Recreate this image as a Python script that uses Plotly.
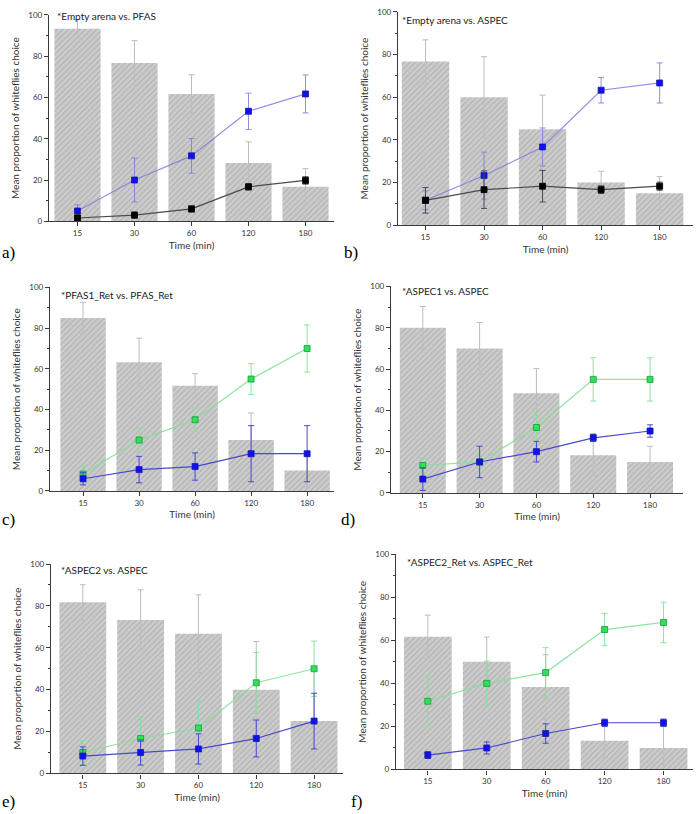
import plotly.graph_objects as go

W, H = 697, 814

categories = ["15", "30", "60", "120", "180"]
titles = ["*Empty arena vs. PFAS", "*Empty arena vs. ASPEC", "*PFAS1_Ret vs. PFAS_Ret",
          "*ASPEC1 vs. ASPEC", "*ASPEC2 vs. ASPEC", "*ASPEC2_Ret vs. ASPEC_Ret"]
panel_labels = ["a)", "b)", "c)", "d)", "e)", "f)"]

# Panel a
bar_a = [93.3, 76.7, 61.7, 28.3, 16.7]
bar_a_err = [4.4, 10.8, 9.3, 10.2, 8.8]
blue_a = [5.0, 20.0, 31.7, 53.3, 61.7]
blue_a_err = [3.0, 10.6, 8.4, 8.8, 9.2]
black_a = [1.6, 3.0, 6.0, 16.7, 19.8]
black_a_err = [1.5, 1.5, 1.5, 1.5, 1.8]

# Panel b
bar_b = [76.7, 60.0, 45.0, 20.0, 15.0]
bar_b_err = [10.2, 19.0, 16.0, 5.3, 7.8]
blue_b = [11.7, 23.3, 36.7, 63.3, 66.7]
blue_b_err = [4.4, 11.0, 8.9, 6.0, 9.4]
black_b = [11.7, 16.7, 18.3, 16.7, 18.3]
black_b_err = [6.0, 8.8, 7.4, 1.8, 1.9]

# Panel c
bar_c = [85.0, 63.3, 51.7, 25.0, 10.0]
bar_c_err = [7.7, 11.8, 6.0, 13.3, 8.0]
green_c = [8.3, 25.0, 35.0, 55.0, 70.0]
green_c_err = [4.2, 5.8, 5.8, 7.6, 11.6]
blue_c = [6.0, 10.5, 12.0, 18.3, 18.3]
blue_c_err = [3.0, 6.5, 6.7, 13.8, 13.8]

# Panel d
bar_d = [80.0, 70.0, 48.3, 18.3, 15.0]
bar_d_err = [10.3, 12.6, 12.0, 10.0, 7.6]
green_d = [13.3, 15.0, 31.7, 55.0, 55.0]
green_d_err = [3.5, 3.0, 7.4, 10.5, 10.5]
blue_d = [6.7, 15.0, 20.0, 26.7, 30.0]
blue_d_err = [5.5, 7.6, 5.0, 1.8, 3.0]

# Panel e
bar_e = [81.7, 73.3, 66.7, 40.0, 25.0]
bar_e_err = [8.4, 14.4, 18.6, 23.0, 25.0]
green_e = [10.0, 16.7, 21.7, 43.3, 50.0]
green_e_err = [5.7, 10.3, 13.0, 14.5, 13.2]
blue_e = [8.3, 10.0, 11.7, 16.7, 25.0]
blue_e_err = [4.4, 6.0, 7.2, 8.8, 13.3]

# Panel f
bar_f = [61.7, 50.0, 38.3, 13.3, 10.0]
bar_f_err = [10.0, 11.5, 15.0, 8.0, 10.0]
green_f = [31.7, 40.0, 45.0, 65.0, 68.3]
green_f_err = [11.6, 10.3, 11.6, 7.5, 9.4]
blue_f = [6.7, 10.0, 16.7, 21.7, 21.7]
blue_f_err = [1.6, 2.8, 4.5, 1.7, 1.7]

# layout geometry (pixels)
geom = [
    dict(x0=49, x1=334, yt=10, yb=219, xr=[-0.5, 4.5], lab=(0, 251), ty=0.995, tx=6),
    dict(x0=398, x1=693, yt=7, yb=223, xr=[-0.47, 4.57], lab=(342, 251), ty=0.963, tx=2),
    dict(x0=50, x1=334, yt=286, yb=492, xr=[-0.59, 4.48], lab=(0, 521), ty=0.965, tx=9),
    dict(x0=391, x1=683, yt=285, yb=494, xr=[-0.56, 4.58], lab=(339, 521), ty=0.976, tx=9),
    dict(x0=51, x1=343, yt=566, yb=778, xr=[-0.55, 4.5], lab=(0, 806), ty=0.972, tx=8),
    dict(x0=396, x1=693, yt=556, yb=774, xr=[-0.54, 4.5], lab=(349, 806), ty=0.963, tx=9),
]

panels = [
    (bar_a, bar_a_err, [("blue_light", blue_a, blue_a_err), ("black", black_a, black_a_err)]),
    (bar_b, bar_b_err, [("blue_light", blue_b, blue_b_err), ("black", black_b, black_b_err)]),
    (bar_c, bar_c_err, [("green", green_c, green_c_err), ("blue", blue_c, blue_c_err)]),
    (bar_d, bar_d_err, [("green", green_d, green_d_err), ("blue", blue_d, blue_d_err)]),
    (bar_e, bar_e_err, [("green", green_e, green_e_err), ("blue", blue_e, blue_e_err)]),
    (bar_f, bar_f_err, [("green", green_f, green_f_err), ("blue", blue_f, blue_f_err)]),
]

styles = {
    "blue_light": dict(line="rgba(125,125,220,0.85)", marker="#1010f0", edge="#1a1aa0"),
    "black": dict(line="#4a4a4a", marker="#000000", edge="#000000"),
    "green": dict(line="rgba(130,225,150,0.9)", marker="#2fe05a", edge="#1a9a3a"),
    "blue": dict(line="#4848d0", marker="#1010f0", edge="#1a1aa0"),
}

FONT = "Lato"
fig = go.Figure()
xpos = list(range(len(categories)))

layout = dict(
    width=W, height=H, margin=dict(l=0, r=0, t=0, b=0),
    paper_bgcolor="white", plot_bgcolor="white", showlegend=False,
    font=dict(family=FONT, color="#333333"), annotations=[],
)

for i, (g, (bars, berr, series)) in enumerate(zip(geom, panels)):
    n = "" if i == 0 else str(i + 1)
    xa, ya = "x" + n, "y" + n
    fig.add_trace(go.Bar(
        x=xpos, y=bars, xaxis=xa, yaxis=ya, width=0.81,
        marker=dict(color="#cdcdcd", line=dict(width=0),
                    pattern=dict(shape="/", fgcolor="#9a9a9a", bgcolor="#cdcdcd", size=4, solidity=0.35)),
        error_y=dict(type="data", array=berr, color="#bdbdbd", thickness=1, width=3),
    ))
    for key, vals, errs in series:
        s = styles[key]
        fig.add_trace(go.Scatter(
            x=xpos, y=vals, xaxis=xa, yaxis=ya, mode="lines+markers",
            line=dict(color=s["line"], width=1.2),
            marker=dict(symbol="square", size=6, color=s["marker"], line=dict(color=s["edge"], width=0.8)),
            error_y=dict(type="data", array=errs, color=s["line"], thickness=1, width=3),
        ))
    layout["xaxis" + n] = dict(
        domain=[g["x0"] / W, g["x1"] / W], anchor=ya, range=g["xr"],
        tickvals=xpos, ticktext=categories, showline=True, linecolor="#3a3a3a", linewidth=1.3,
        ticks="outside", ticklen=4, tickcolor="#3a3a3a", tickwidth=1, showgrid=False, zeroline=False,
        tickfont=dict(size=8, family=FONT, color="#333"),
        title=dict(text="Time (min)", font=dict(size=10, family=FONT, color="#333"), standoff=4),
    )
    layout["yaxis" + n] = dict(
        domain=[1 - g["yb"] / H, 1 - g["yt"] / H], anchor=xa, range=[0, 100],
        tickvals=[0, 20, 40, 60, 80, 100], showline=True, linecolor="#3a3a3a", linewidth=1.3,
        ticks="outside", ticklen=4, tickcolor="#3a3a3a", tickwidth=1, showgrid=False, zeroline=False,
        minor=dict(tickvals=[10, 30, 50, 70, 90], ticks="outside", ticklen=2, tickcolor="#3a3a3a"),
        tickfont=dict(size=8, family=FONT, color="#333"),
        title=dict(text="Mean proportion of whiteflies choice", font=dict(size=10, family=FONT, color="#333"), standoff=6),
    )
    layout["annotations"].append(dict(
        text=titles[i], xref=xa + " domain", yref=ya + " domain", x=0, y=g["ty"],
        xanchor="left", yanchor="middle", xshift=g["tx"], showarrow=False,
        font=dict(size=10, family=FONT, color="#222"),
    ))
    layout["annotations"].append(dict(
        text=panel_labels[i], xref="paper", yref="paper", x=g["lab"][0] / W, y=1 - g["lab"][1] / H,
        xanchor="left", yanchor="middle", showarrow=False,
        font=dict(size=17, family="Liberation Serif", color="#000"),
    ))

fig.update_layout(**layout)
fig.write_html("out.html")
